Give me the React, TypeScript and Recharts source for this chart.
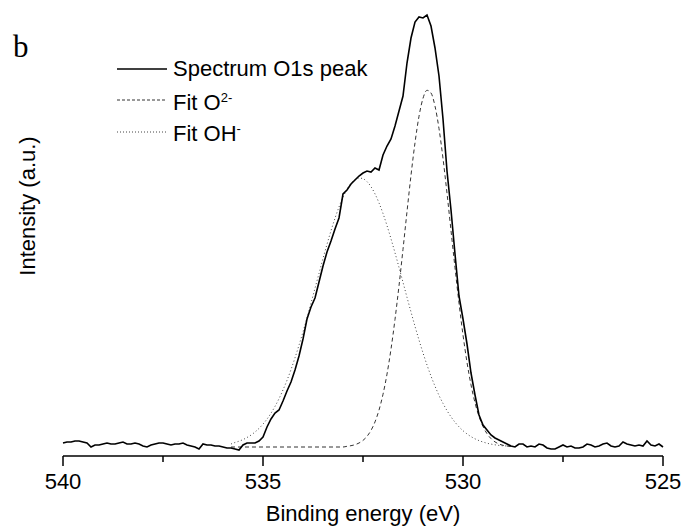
import React from 'react';
import { LineChart, Line, XAxis, YAxis, Legend, Label } from 'recharts';

const FONT = '"Liberation Sans", Arial, sans-serif';

// binding energy grid: 540.0 eV down to 525.0 eV, 0.1 eV step
const E_START = 540;
const E_STEP = 0.1;

const SPECTRUM = [
  13, 14, 14, 15, 15, 14, 13, 9, 11, 11,
  12, 13, 12, 12, 13, 14, 12, 12, 13, 12,
  10, 9, 11, 12, 13, 13, 12, 11, 12, 12,
  13, 11, 10, 9, 7, 12, 11, 11, 10, 10,
  9, 8, 8, 7, 6, 11, 13, 13, 13, 15,
  19, 29, 37, 43, 46, 55, 65, 74, 86, 100,
  117, 137, 149, 158, 174, 190, 204, 215, 227, 238,
  262, 266, 272, 276, 280, 283, 285, 284, 288, 286,
  301, 310, 317, 330, 345, 360, 393, 418, 434, 439,
  438, 441, 430, 408, 380, 337, 285, 246, 202, 160,
  137, 112, 83, 61, 41, 31, 26, 21, 18, 16,
  14, 12, 10, 9, 12, 12, 9, 10, 9, 12,
  11, 8, 7, 7, 9, 11, 9, 10, 8, 8,
  9, 12, 11, 9, 10, 12, 13, 10, 9, 10,
  14, 12, 11, 10, 11, 10, 15, 11, 10, 12,
  9,
];

// fits are drawn from 535.8 eV to 528.8 eV
const FIT_FIRST = 42;

const FIT_OH = [
  12, 13.5, 14.8, 16.4, 18.5, 20.9, 24.0, 27.6, 31.9, 36.9,
  42.8, 49.6, 57.3, 66.1, 75.7, 86.4, 98.2, 110.8, 124.1, 138.2,
  152.8, 167.7, 182.6, 197.4, 211.7, 225.3, 237.8, 249.0, 258.8, 266.6,
  272.6, 276.4, 278.0, 277.3, 274.4, 269.3, 262.1, 253.1, 242.5, 230.4,
  217.2, 203.2, 188.6, 173.7, 158.7, 144.0, 129.7, 116.0, 103.1, 91.0,
  79.9, 69.8, 60.6, 52.6, 45.4, 39.2, 33.8, 29.2, 25.3, 22.1,
  19.4, 17.2, 15.4, 14.0, 12.8, 11.9, 11.2, 10.6, 10.2, 10.0,
  9.6,
];

const FIT_O2 = [
  9, 9, 9, 9, 9, 9, 9, 9, 9, 9,
  9, 9, 9, 9, 9, 9, 9, 9, 9, 9,
  9, 9, 9, 9, 9, 9, 9, 9, 9, 9.7,
  10.3, 11.3, 13.0, 15.6, 19.6, 25.6, 34.1, 45.9, 61.7, 81.9,
  106.9, 136.6, 170.2, 206.7, 244.3, 280.7, 313.2, 339.7, 357.7, 365.7,
  363.0, 349.9, 327.4, 297.6, 262.8, 225.5, 188.2, 152.9, 121.1, 93.7,
  71.2, 53.3, 39.6, 29.5, 22.3, 17.4, 14.1, 12.0, 10.7, 10.0,
  9.5,
];

const X_TICKS = [540, 537.5, 535, 532.5, 530, 527.5, 525];

const data = SPECTRUM.map((v, i) => {
  const j = i - FIT_FIRST;
  return {
    energy: +(E_START - i * E_STEP).toFixed(1),
    spectrum: v,
    oh: j >= 0 && j < FIT_OH.length ? FIT_OH[j] : null,
    o2: j >= 0 && j < FIT_O2.length ? FIT_O2[j] : null,
  };
});

const EnergyTick = (props: any) => {
  const { x, y, payload } = props;
  const major = payload.value % 5 === 0;
  return (
    <g>
      <line x1={x} y1={y} x2={x} y2={y + (major ? 10 : 6)} stroke="#000" strokeWidth={1.5} />
      {major && (
        <text x={x} y={y + 33} textAnchor="middle" fontSize={22} fontFamily={FONT} fill="#000">
          {payload.value}
        </text>
      )}
    </g>
  );
};

const legendItems = [
  { key: 'spectrum', label: <>Spectrum O1s peak</>, dash: undefined, color: '#000', width: 1.5 },
  { key: 'o2', label: <>Fit O<sup style={{ fontSize: 13 }}>2-</sup></>, dash: '3 2', color: '#333', width: 1 },
  { key: 'oh', label: <>Fit OH<sup style={{ fontSize: 13 }}>-</sup></>, dash: '1 2', color: '#444', width: 1 },
];

const renderLegend = () => (
  <div style={{ fontFamily: FONT, fontSize: 22, color: '#000' }}>
    {legendItems.map((it) => (
      <div key={it.key} style={{ display: 'flex', alignItems: 'center', height: 31.5, lineHeight: '22px' }}>
        <svg width={50} height={4} style={{ marginRight: 6 }}>
          <line x1={0} y1={2} x2={50} y2={2} stroke={it.color} strokeWidth={it.width} strokeDasharray={it.dash} />
        </svg>
        <span>{it.label}</span>
      </div>
    ))}
  </div>
);

export default function App() {
  return (
    <div style={{ position: 'absolute', left: 0, top: 0, width: 682, height: 527, background: '#fff' }}>
      <LineChart width={682} height={527} data={data} margin={{ top: 6, right: 19, bottom: 0, left: 63 }}>
        <XAxis
          dataKey="energy"
          type="number"
          domain={[525, 540]}
          reversed
          ticks={X_TICKS}
          interval={0}
          tickLine={false}
          tickSize={0}
          tickMargin={0}
          tick={<EnergyTick />}
          height={71}
          axisLine={{ stroke: '#000', strokeWidth: 1.5 }}
        >
          <Label value="Binding energy (eV)" position="insideBottom" offset={6} fontSize={22} fontFamily={FONT} fill="#000" />
        </XAxis>
        <YAxis hide domain={[0, 450]} />
        <Legend
          layout="horizontal"
          verticalAlign="middle"
          align="center"
          content={renderLegend}
          wrapperStyle={{ position: 'absolute', left: 117, top: 53, width: 280 }}
        />
        <Line dataKey="o2" type="monotone" stroke="#333" strokeWidth={1} strokeDasharray="4 3" dot={false} isAnimationActive={false} connectNulls={false} />
        <Line dataKey="oh" type="monotone" stroke="#444" strokeWidth={1} strokeDasharray="1 2.5" dot={false} isAnimationActive={false} connectNulls={false} />
        <Line dataKey="spectrum" type="linear" stroke="#000" strokeWidth={1.6} dot={false} isAnimationActive={false} />
      </LineChart>
      <div style={{ position: 'absolute', left: 13, top: 27, fontFamily: '"Liberation Serif", "Times New Roman", serif', fontSize: 31, lineHeight: '40px', color: '#000' }}>
        b
      </div>
      <div
        style={{
          position: 'absolute',
          left: 28,
          top: 206,
          transform: 'translate(-50%, -50%) rotate(-90deg)',
          whiteSpace: 'nowrap',
          fontFamily: FONT,
          fontSize: 22,
          color: '#000',
        }}
      >
        Intensity (a.u.)
      </div>
    </div>
  );
}
